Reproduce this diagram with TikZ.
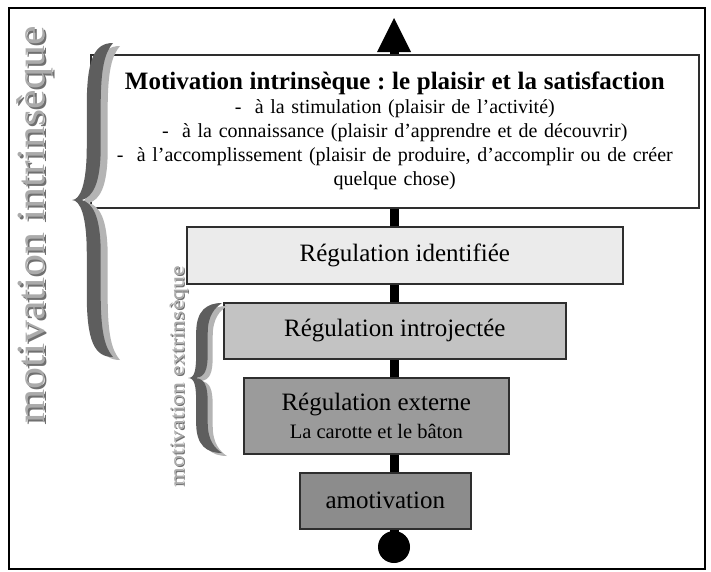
\documentclass[tikz,border=0pt]{standalone}
\usepackage{fontspec}
\setmainfont{Liberation Serif}
\usetikzlibrary{arrows.meta,backgrounds}
\frenchspacing
\definecolor{bracedark}{HTML}{5E5E5E}
\definecolor{bracelight}{HTML}{B4B4B4}
\definecolor{labelface}{HTML}{ABABAB}
\definecolor{labelshade}{HTML}{707070}
\definecolor{boxline}{HTML}{2E2E2E}
\definecolor{fillA}{HTML}{EBEBEB}
\definecolor{fillB}{HTML}{C3C3C3}
\definecolor{fillC}{HTML}{9B9B9B}
\definecolor{fillD}{HTML}{8C8C8C}
\newcommand\bracepath[2]{%
 (1,-1) .. controls (0.55,-1) and (#1,-0.9) .. (#1,-0.6)
 -- (#1,-0.34) .. controls (#1,-0.1) and (0.2,0) .. (0,0)
 .. controls (0.2,0) and (#1,0.1) .. (#1,0.34)
 -- (#1,0.6) .. controls (#1,0.9) and (0.55,1) .. (1,1)
 .. controls (0.8,0.94) and (#2,0.84) .. (#2,0.6)
 -- (#2,0.34) .. controls (#2,0.1) and (0.5,0.02) .. (0.24,0)
 .. controls (0.5,-0.02) and (#2,-0.1) .. (#2,-0.34)
 -- (#2,-0.6) .. controls (#2,-0.84) and (0.8,-0.94) .. (1,-1) -- cycle}
\begin{document}
\begin{tikzpicture}[x=1pt,y=-1pt,
  frame/.style={draw=black,line width=2pt},
  levelbox/.style={draw=boxline,line width=1.6pt,inner sep=0pt,anchor=north west,
    align=center,font=\fontsize{25}{28}\selectfont},
  spine/.style={line width=9pt,-{Triangle[width=34pt,length=34pt,line width=0pt]}},
  bigtag/.style={rotate=90,font=\fontsize{40}{40}\selectfont,inner sep=0pt},
  smalltag/.style={rotate=90,font=\fontsize{20}{20}\selectfont,inner sep=0pt}]
\useasboundingbox (0,0) rectangle (711,571);
\draw[frame] (9,8) rectangle (705,569);
% spine endpoints
\coordinate (tip) at (394,18);
\node[circle,fill=black,inner sep=0pt,minimum size=32pt] (dot) at (394,547) {};
% boxes
\node[levelbox,fill=white,minimum width=608pt,minimum height=153pt,text width=600pt,
  font=\fontsize{20}{24}\selectfont] (top) at (90,54)
  {{\bfseries\fontsize{25}{24}\selectfont Motivation intrinsèque : le plaisir et la satisfaction}\\
   -~~à la stimulation (plaisir de l’activité)\\
   -~~à la connaissance (plaisir d’apprendre et de découvrir)\\
   -~~à l’accomplissement (plaisir de produire, d’accomplir ou de créer\\
   quelque chose)};
\node[levelbox,fill=fillA,minimum width=436pt,minimum height=57pt] (ident) at (186,226) {Régulation identifiée};
\node[levelbox,fill=fillB,minimum width=342pt,minimum height=56pt] (intro) at (223,302) {Régulation introjectée};
\node[levelbox,fill=fillC,minimum width=265pt,minimum height=76pt] (ext) at (243,377)
  {Régulation externe\\{\fontsize{20.5}{23}\selectfont La carotte et le bâton}};
\node[levelbox,fill=fillD,minimum width=171pt,minimum height=56pt] (amot) at (299,472) {amotivation};
\begin{scope}[on background layer]
  \draw[spine] (dot.center) -- (tip);
\end{scope}
% big brace
\begin{scope}[shift={(79,203)},xscale=41,yscale=157]
  \fill[bracelight] \bracepath{0.36}{0.7};
\end{scope}
\begin{scope}[shift={(72,200)},xscale=41,yscale=157]
  \fill[bracedark] \bracepath{0.36}{0.7};
\end{scope}
% small brace
\begin{scope}[shift={(193,381)},xscale=34,yscale=75]
  \fill[bracelight] \bracepath{0.24}{0.58};
\end{scope}
\begin{scope}[shift={(188,378)},xscale=34,yscale=75]
  \fill[bracedark] \bracepath{0.24}{0.58};
\end{scope}
% rotated labels
\node[bigtag,text=labelshade] (mishade) at (37,227) {\scalebox{1.1}[1]{motivation intrinsèque}};
\node[bigtag,text=labelface] (mi) at (35,225) {\scalebox{1.1}[1]{motivation intrinsèque}};
\node[smalltag,text=labelshade] (meshade) at (180,377) {\scalebox{1.2}[1]{motivation extrinsèque}};
\node[smalltag,text=labelface] (me) at (178.8,376) {\scalebox{1.2}[1]{motivation extrinsèque}};
\end{tikzpicture}
\end{document}
